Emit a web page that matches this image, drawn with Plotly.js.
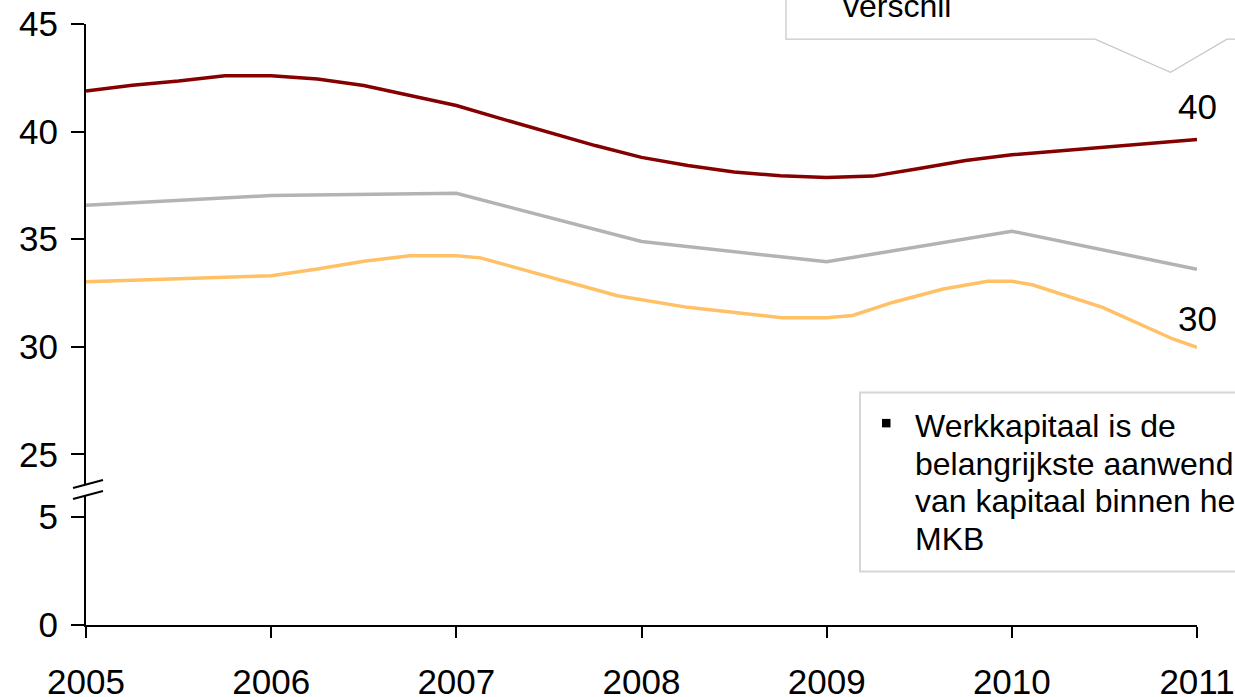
<!DOCTYPE html>
<html>
<head>
<meta charset="utf-8">
<script src="https://cdn.plot.ly/plotly-3.0.1.min.js"></script>
<style>
  html, body { margin: 0; padding: 0; overflow: hidden; background: #ffffff; }
  #chart { width: 1235px; height: 697px; }
</style>
</head>
<body>
<div id="chart"></div>
<script>
// ---- data ----
const grayYears = [2005, 2006, 2007, 2008, 2009, 2010, 2011];
const grayValues = [36.57, 37.03, 37.13, 34.89, 33.95, 35.37, 33.60];

const redYears = [2005, 2005.25, 2005.5, 2005.75, 2006, 2006.25, 2006.5, 2006.75,
                  2007, 2007.25, 2007.5, 2007.75, 2008, 2008.25, 2008.5, 2008.75,
                  2009, 2009.25, 2009.5, 2009.75, 2010, 2010.25, 2010.5, 2010.75, 2011];
const redValues = [41.88, 42.15, 42.35, 42.60, 42.60, 42.44, 42.14, 41.67,
                   41.21, 40.58, 39.95, 39.35, 38.80, 38.42, 38.12, 37.95,
                   37.86, 37.93, 38.28, 38.66, 38.92, 39.10, 39.28, 39.46, 39.63];

const orangeYears = [2005, 2005.5, 2006, 2006.25, 2006.5, 2006.75, 2007, 2007.13,
                     2007.45, 2007.87, 2008.25, 2008.76, 2009, 2009.14, 2009.36,
                     2009.63, 2009.87, 2010, 2010.11, 2010.49, 2010.87, 2011];
const orangeValues = [33.02, 33.15, 33.30, 33.61, 33.97, 34.23, 34.23, 34.13,
                      33.38, 32.37, 31.83, 31.35, 31.35, 31.45, 32.07,
                      32.68, 33.04, 33.04, 32.88, 31.83, 30.36, 29.97];

const xTicks = [2005, 2006, 2007, 2008, 2009, 2010, 2011];
const upperTicks = [25, 30, 35, 40, 45];
const lowerTicks = [0, 5];

const calloutText = "verschil";
const boxLines = ["Werkkapitaal is de", "belangrijkste aanwending", "van kapitaal binnen het", "MKB"];

// ---- layout helpers (pixel -> paper) ----
const W = 1235, H = 697;
const L = 86, R = 1197, T = 24.3, B = 625;
const px = x => (x - L) / (R - L);
const py = y => (B - y) / (B - T);

const FONT = "Liberation Sans, Arial, sans-serif";

const traces = [
  { x: grayYears, y: grayValues, mode: "lines", line: { color: "#b3b3b3", width: 3.5 }, xaxis: "x", yaxis: "y", hoverinfo: "skip" },
  { x: orangeYears, y: orangeValues, mode: "lines", line: { color: "#ffc066", width: 3.5 }, xaxis: "x", yaxis: "y", hoverinfo: "skip" },
  { x: redYears, y: redValues, mode: "lines", line: { color: "#850000", width: 3.5 }, xaxis: "x", yaxis: "y", hoverinfo: "skip" },
  { x: [2005], y: [null], mode: "lines", xaxis: "x", yaxis: "y2", hoverinfo: "skip" }
];

const lastRed = redValues[redValues.length - 1];
const lastOrange = orangeValues[orangeValues.length - 1];

const annotations = [
  { xref: "x", yref: "y", x: redYears[redYears.length - 1], y: lastRed, text: String(Math.round(lastRed)),
    showarrow: false, xanchor: "center", yanchor: "middle", yshift: 33, font: { family: FONT, size: 35, color: "#000" } },
  { xref: "x", yref: "y", x: orangeYears[orangeYears.length - 1], y: lastOrange, text: String(Math.round(lastOrange)),
    showarrow: false, xanchor: "center", yanchor: "middle", yshift: 29, font: { family: FONT, size: 35, color: "#000" } },
  { xref: "paper", yref: "paper", x: px(841), y: py(6.5), text: calloutText, showarrow: false,
    xanchor: "left", yanchor: "middle", font: { family: FONT, size: 32, color: "#000" } }
];
boxLines.forEach((t, i) => {
  annotations.push({ xref: "paper", yref: "paper", x: px(913), y: py(426 + i * 37.6), text: t, showarrow: false,
    xanchor: "left", yanchor: "middle", font: { family: FONT, size: 32, color: "#000" } });
});

const shapes = [
  // axis break marks
  { type: "line", xref: "paper", yref: "paper", x0: px(73), y0: py(488), x1: px(103), y1: py(480), line: { color: "#000", width: 2 } },
  { type: "line", xref: "paper", yref: "paper", x0: px(73), y0: py(499), x1: px(103), y1: py(491), line: { color: "#000", width: 2 } },
  // top callout box
  { type: "path", xref: "paper", yref: "paper",
    path: `M ${px(786)},${py(-30)} L ${px(786)},${py(39.5)} L ${px(1095)},${py(39.5)} L ${px(1170.5)},${py(72.5)} L ${px(1227)},${py(39.5)} L ${px(1270)},${py(39.5)}`,
    line: { color: "#c8c8c8", width: 1.3 } },
  // text box
  { type: "rect", xref: "paper", yref: "paper", x0: px(860), y0: py(392.5), x1: px(1280), y1: py(571.5),
    line: { color: "#d6d6d6", width: 2 }, fillcolor: "rgba(255,255,255,0)" },
  // bullet
  { type: "rect", xref: "paper", yref: "paper", x0: px(882), y0: py(419), x1: px(890.5), y1: py(427.5),
    line: { width: 0 }, fillcolor: "#000" }
];

const layout = {
  width: W, height: H,
  margin: { l: L, r: W - R, t: T, b: H - B, pad: 0 },
  paper_bgcolor: "#ffffff", plot_bgcolor: "#ffffff",
  showlegend: false, hovermode: false,
  font: { family: FONT, color: "#000" },
  xaxis: {
    range: [2005, 2011], anchor: "y2", tickvals: xTicks, ticktext: xTicks.map(String),
    showgrid: false, zeroline: false, showline: true, linecolor: "#000", linewidth: 2,
    ticks: "outside", ticklen: 11, tickwidth: 2, tickcolor: "#000",
    tickfont: { family: FONT, size: 35, color: "#000" }, ticklabelstandoff: 14
  },
  yaxis: {
    domain: [py(484.5), 1], range: [23.6, 45], anchor: "x", tickvals: upperTicks, ticktext: upperTicks.map(String),
    showgrid: false, zeroline: false, showline: true, linecolor: "#000", linewidth: 2,
    ticks: "outside", ticklen: 13, tickwidth: 2, tickcolor: "#000",
    tickfont: { family: FONT, size: 35, color: "#000" }, ticklabelstandoff: 6
  },
  yaxis2: {
    domain: [0, py(495.5)], range: [0, 5.98], anchor: "x", tickvals: lowerTicks, ticktext: lowerTicks.map(String),
    showgrid: false, zeroline: false, showline: true, linecolor: "#000", linewidth: 2,
    ticks: "outside", ticklen: 13, tickwidth: 2, tickcolor: "#000",
    tickfont: { family: FONT, size: 35, color: "#000" }, ticklabelstandoff: 6
  },
  annotations: annotations,
  shapes: shapes
};

Plotly.newPlot("chart", traces, layout, { displayModeBar: false, staticPlot: true });
</script>
</body>
</html>
